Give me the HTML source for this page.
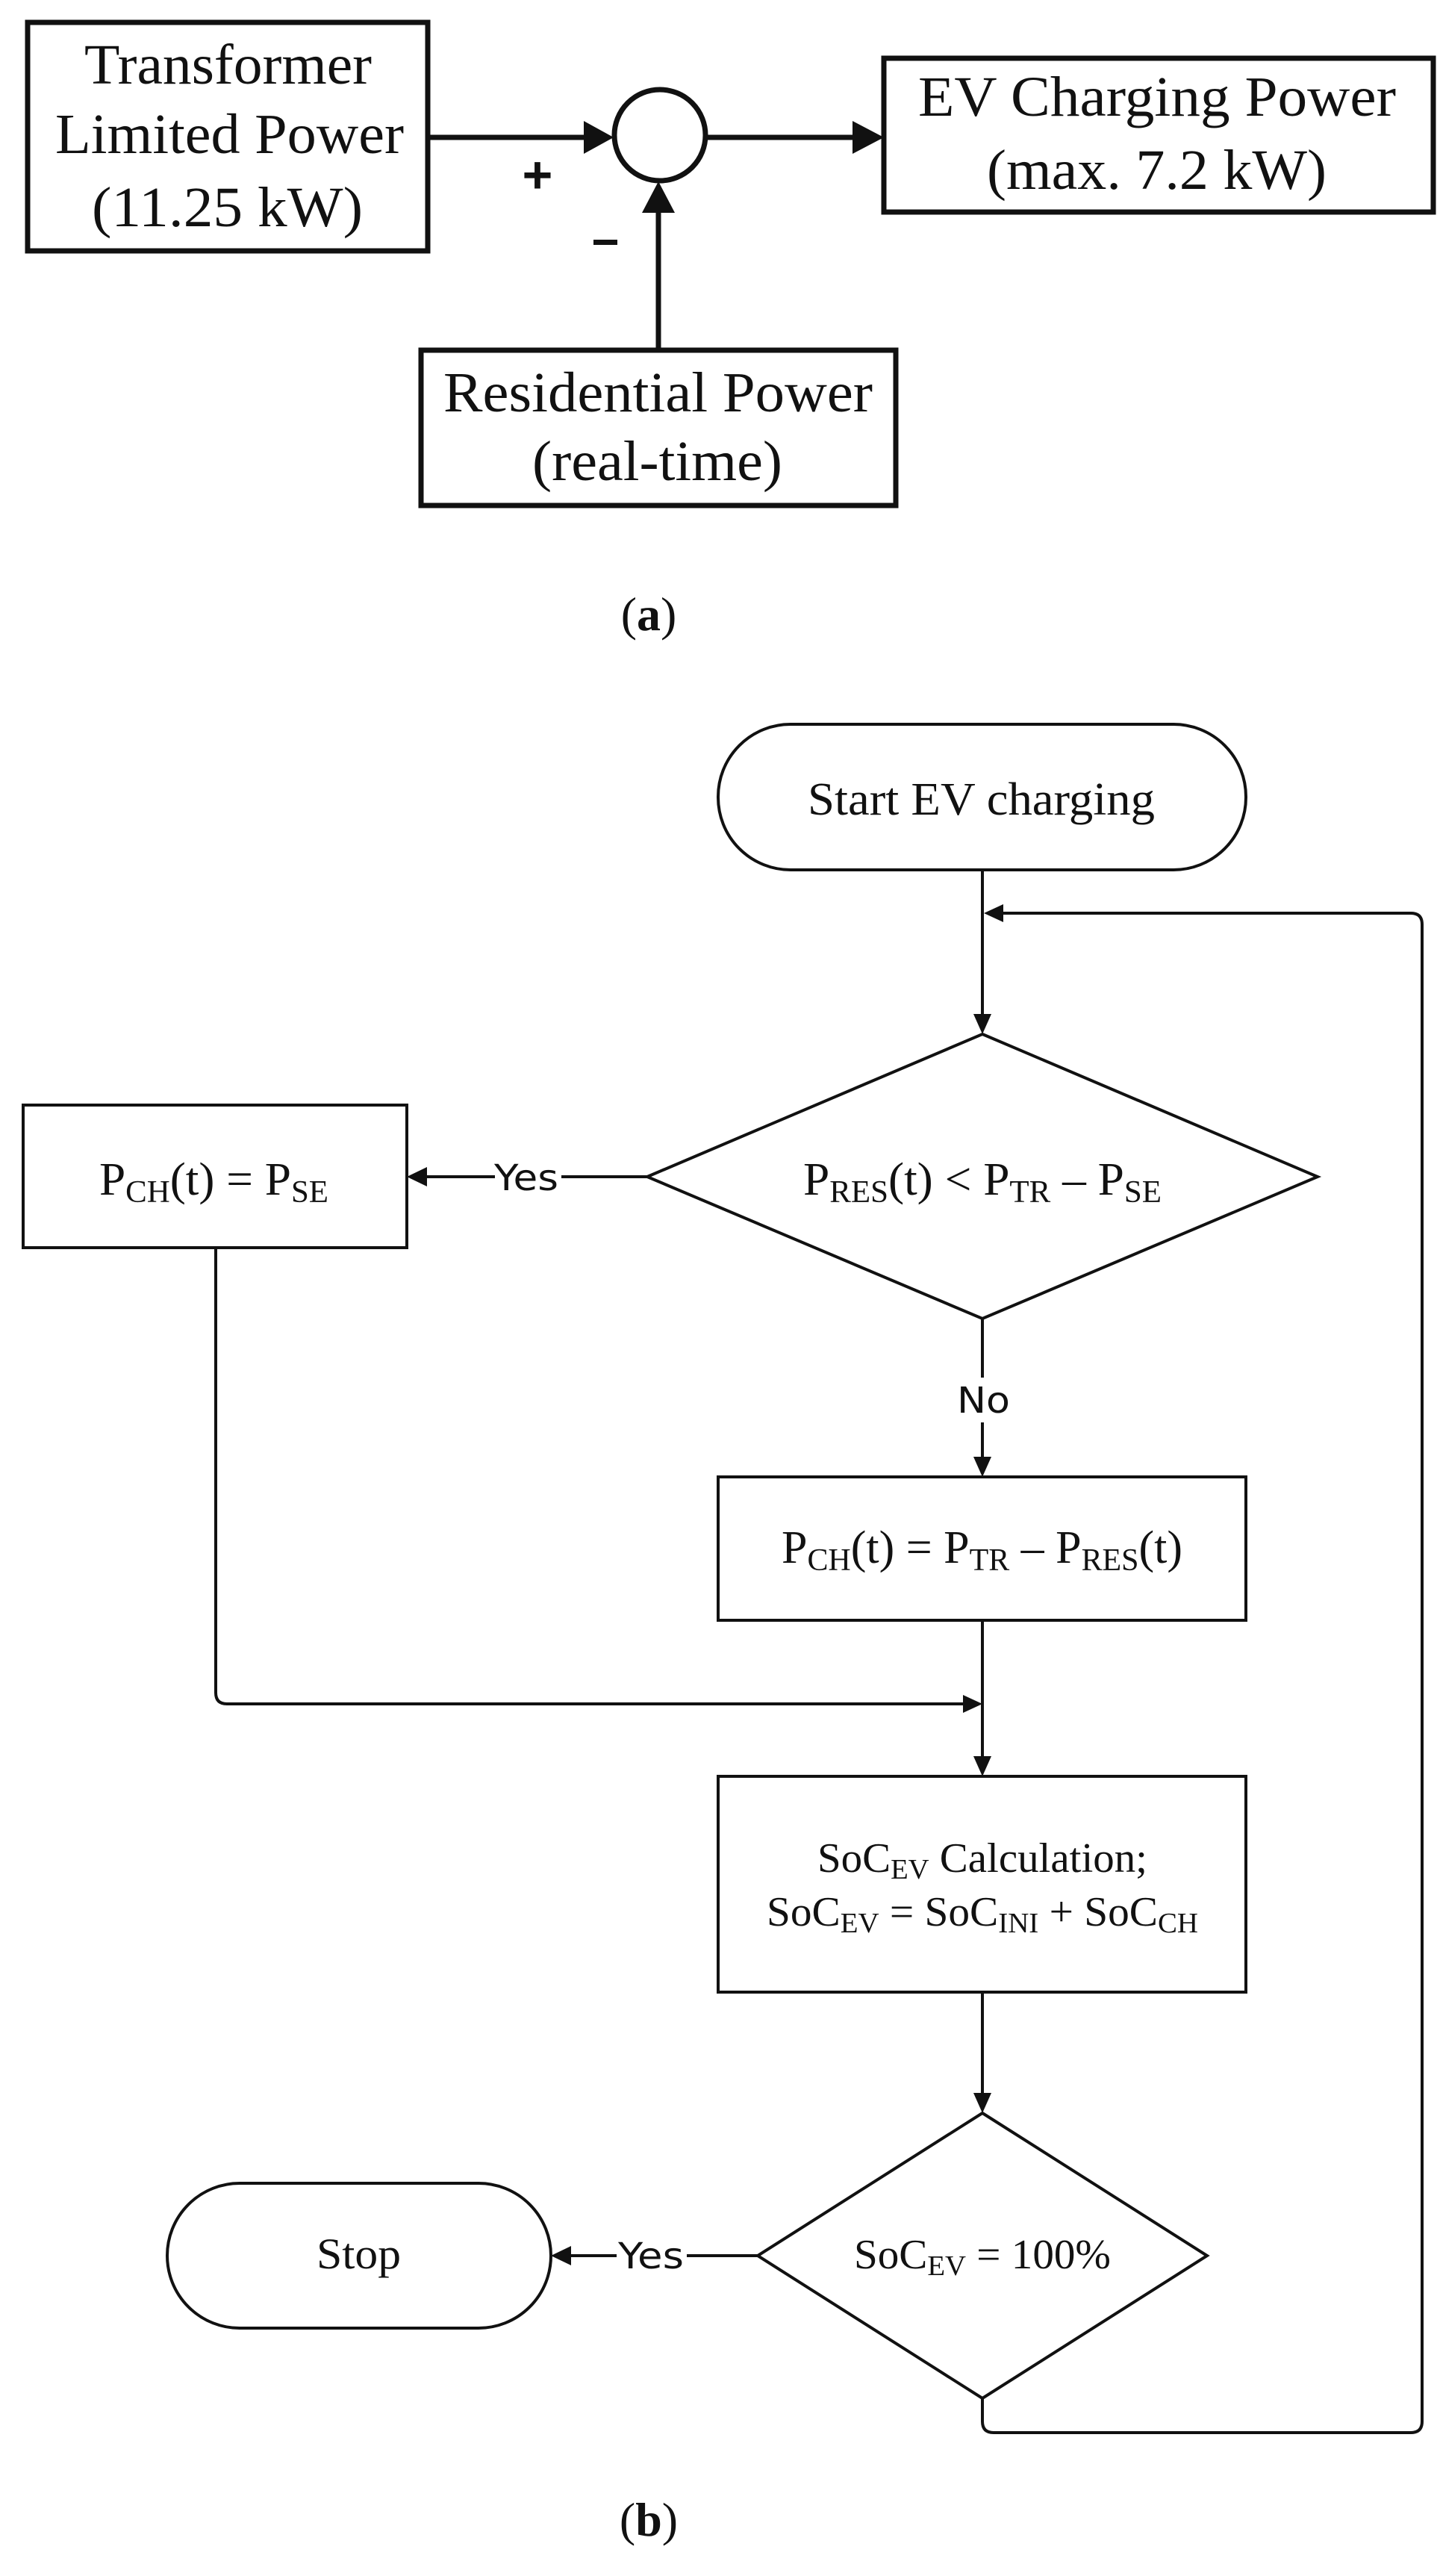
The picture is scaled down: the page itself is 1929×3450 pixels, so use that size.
<!DOCTYPE html>
<html><head><meta charset="utf-8"><style>html,body{margin:0;padding:0;background:#fff}svg{display:block}</style></head>
<body>
<svg width="1929" height="3450" viewBox="0 0 1929 3450" xmlns="http://www.w3.org/2000/svg" font-family="'Liberation Serif', serif" fill="#111">
<rect width="1929" height="3450" fill="#fff"/>
<!-- (a) -->
<g stroke="#111" stroke-width="7" fill="none">
<rect x="37" y="30" width="536" height="306"/>
<rect x="1184" y="78" width="736" height="206"/>
<rect x="564" y="469" width="636" height="208"/>
<circle cx="884" cy="181" r="61"/>
<line x1="573" y1="184" x2="790" y2="184"/>
<line x1="945" y1="184" x2="1145" y2="184"/>
<line x1="882" y1="469" x2="882" y2="280"/>
</g>
<polygon points="822,184 782,162 782,206" fill="#111"/>
<polygon points="1184,184 1142,162 1142,206" fill="#111"/>
<polygon points="882,243 860,285 904,285" fill="#111"/>
<g font-size="76">
<text x="113" y="112" textLength="385" lengthAdjust="spacingAndGlyphs">Transformer</text>
<text x="74" y="205" textLength="467" lengthAdjust="spacingAndGlyphs">Limited Power</text>
<text x="123" y="303" textLength="363" lengthAdjust="spacingAndGlyphs">(11.25 kW)</text>
<text x="1230" y="155" textLength="640" lengthAdjust="spacingAndGlyphs">EV Charging Power</text>
<text x="1322" y="253" textLength="455" lengthAdjust="spacingAndGlyphs">(max. 7.2 kW)</text>
<text x="594" y="551" textLength="575" lengthAdjust="spacingAndGlyphs">Residential Power</text>
<text x="713" y="643" textLength="335" lengthAdjust="spacingAndGlyphs">(real-time)</text>
</g>
<text x="720" y="258" font-size="70" font-family="'Liberation Sans',sans-serif" text-anchor="middle" font-weight="bold">+</text>
<rect x="795" y="321" width="32" height="7" fill="#111"/>
<text x="869" y="844" font-size="64" text-anchor="middle"><tspan>(</tspan><tspan font-weight="bold">a</tspan><tspan>)</tspan></text>

<!-- (b) flowchart -->
<g stroke="#111" stroke-width="4" fill="none">
<rect x="962" y="970" width="707" height="195" rx="97" ry="97"/>
<polygon points="1316,1385 1765,1576 1316,1766 867,1576"/>
<rect x="31" y="1480" width="514" height="191"/>
<rect x="962" y="1978" width="707" height="192"/>
<rect x="962" y="2379" width="707" height="289"/>
<polygon points="1316,2830 1617,3021 1316,3212 1015,3021"/>
<rect x="224" y="2924" width="514" height="194" rx="97" ry="97"/>
<line x1="1316" y1="1165" x2="1316" y2="1360"/>
<path d="M1316,3212 V3243 Q1316,3258 1331,3258 H1890 Q1905,3258 1905,3243 V1238 Q1905,1223 1890,1223 H1340"/>
<line x1="867" y1="1576" x2="752" y2="1576"/>
<line x1="663" y1="1576" x2="570" y2="1576"/>
<line x1="1316" y1="1766" x2="1316" y2="1845"/>
<line x1="1316" y1="1905" x2="1316" y2="1955"/>
<line x1="289" y1="1671" x2="289" y2="2267"/>
<path d="M289,2267 Q289,2282 304,2282 H1292"/>
<line x1="1316" y1="2170" x2="1316" y2="2355"/>
<line x1="1316" y1="2668" x2="1316" y2="2806"/>
<line x1="1015" y1="3021" x2="920" y2="3021"/>
<line x1="826" y1="3021" x2="762" y2="3021"/>
</g>
<g fill="#111">
<polygon points="1316,1385 1304,1358 1328,1358"/>
<polygon points="1318,1223 1344,1211 1344,1235"/>
<polygon points="545,1576 572,1563 572,1589"/>
<polygon points="1316,1978 1304,1951 1328,1951"/>
<polygon points="1316,2282 1290,2270 1290,2294"/>
<polygon points="1316,2379 1304,2352 1328,2352"/>
<polygon points="1316,2830 1304,2803 1328,2803"/>
<polygon points="738,3021 765,3008 765,3034"/>
</g>
<g font-size="62">
<text x="1082" y="1091" textLength="465" lengthAdjust="spacingAndGlyphs">Start EV charging</text>
<text x="1076" y="1600" textLength="480" lengthAdjust="spacingAndGlyphs">P<tspan font-size="42" dy="10">RES</tspan><tspan dy="-10">(t) &lt; P</tspan><tspan font-size="42" dy="10">TR</tspan><tspan dy="-10"> – P</tspan><tspan font-size="42" dy="10">SE</tspan></text>
<text x="133" y="1600" textLength="307" lengthAdjust="spacingAndGlyphs">P<tspan font-size="42" dy="10">CH</tspan><tspan dy="-10">(t) = P</tspan><tspan font-size="42" dy="10">SE</tspan></text>
<text x="1047" y="2093" textLength="537" lengthAdjust="spacingAndGlyphs">P<tspan font-size="42" dy="10">CH</tspan><tspan dy="-10">(t) = P</tspan><tspan font-size="42" dy="10">TR</tspan><tspan dy="-10"> – P</tspan><tspan font-size="42" dy="10">RES</tspan><tspan dy="-10">(t)</tspan></text>
<text x="1095" y="2507" font-size="56" textLength="442" lengthAdjust="spacingAndGlyphs">SoC<tspan font-size="38" dy="9">EV</tspan><tspan dy="-9"> Calculation;</tspan></text>
<text x="1027" y="2579" font-size="56" textLength="578" lengthAdjust="spacingAndGlyphs">SoC<tspan font-size="38" dy="9">EV</tspan><tspan dy="-9"> = SoC</tspan><tspan font-size="38" dy="9">INI</tspan><tspan dy="-9"> + SoC</tspan><tspan font-size="38" dy="9">CH</tspan></text>
<text x="1144" y="3038" font-size="56" textLength="344" lengthAdjust="spacingAndGlyphs">SoC<tspan font-size="38" dy="9">EV</tspan><tspan dy="-9"> = 100%</tspan></text>
<text x="424" y="3038" font-size="58" textLength="113" lengthAdjust="spacingAndGlyphs">Stop</text>
</g>
<g font-family="'DejaVu Sans','Liberation Sans',sans-serif" font-size="48">
<text x="662" y="1594" textLength="86" lengthAdjust="spacingAndGlyphs">Yes</text>
<text x="1282" y="1892" textLength="71" lengthAdjust="spacingAndGlyphs">No</text>
<text x="828" y="3038" textLength="88" lengthAdjust="spacingAndGlyphs">Yes</text>
</g>
<text x="869" y="3396" font-size="64" text-anchor="middle"><tspan>(</tspan><tspan font-weight="bold">b</tspan><tspan>)</tspan></text>
</svg>
</body></html>
